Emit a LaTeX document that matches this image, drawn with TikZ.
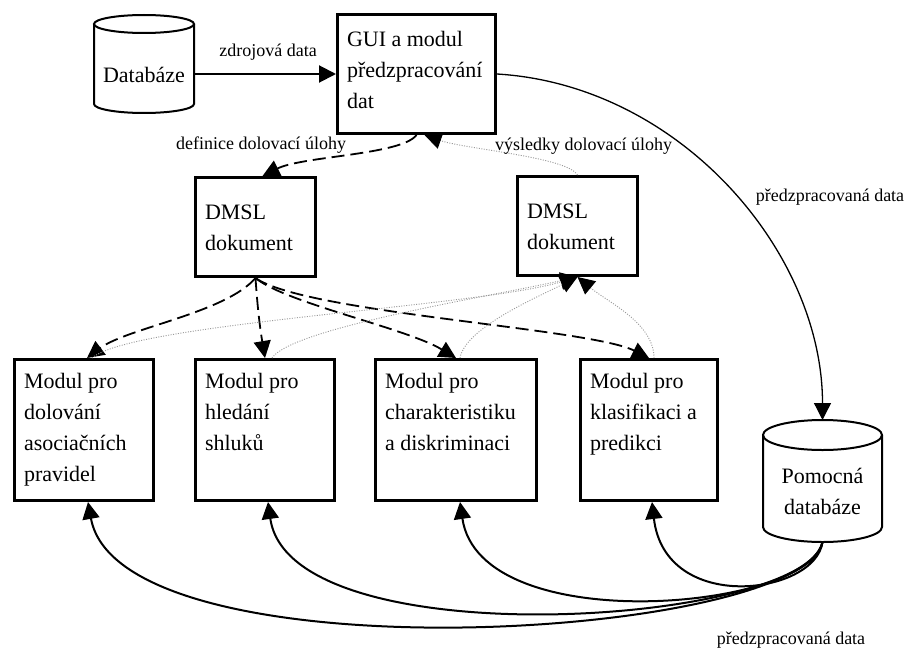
\documentclass[tikz,border=0pt]{standalone}
\usepackage{fontspec}
\setmainfont{Liberation Serif}
\usetikzlibrary{arrows.meta,calc}

\newcommand\boxfont{\fontsize{22pt}{31pt}\selectfont}
\newcommand\lblfont{\fontsize{18pt}{22pt}\selectfont}
% box contents: width, height, first baseline below top, lines
\newcommand\boxtext[4]{\parbox[c][#2][t]{#1}{\raggedright\rule{0pt}{#3}#4}}
\newcommand\cyltext[4]{\parbox[c][#2][t]{#1}{\centering\rule{0pt}{#3}#4}}

\tikzset{
  box/.style={draw, line width=3pt, inner xsep=9.5pt, inner ysep=0pt, font=\boxfont},
  cyl/.style={inner sep=0pt, outer sep=0pt, font=\boxfont},
  cylline/.style={line width=2pt},
  lbl/.style={font=\lblfont, inner sep=0pt, anchor=base},
  tip/.style={-{Triangle[length=17pt,width=17pt,color=black]}},
  solidthick/.style={tip, line width=2pt},
  solidthin/.style={tip, line width=1.3pt},
  dashedarrow/.style={tip, line width=1.8pt, dash pattern=on 13pt off 6pt},
  dottedarrow/.style={tip, line width=0.9pt, draw=gray!80, dash pattern=on 1pt off 1.5pt},
}

\begin{document}
\begin{tikzpicture}[x=1pt,y=-1pt]
\useasboundingbox[fill=white] (0,0) rectangle (904,650);

% boxes
\node[box] (gui) at (416.5,74) {\boxtext{139pt}{119pt}{32pt}{GUI a modul\\předzpracování\\dat}};
\node[box] (dmslA) at (255.5,227) {\boxtext{101pt}{99pt}{41.5pt}{DMSL\\dokument}};
\node[box] (dmslB) at (577.5,226) {\boxtext{101pt}{99pt}{41.5pt}{DMSL\\dokument}};
\node[box] (m1) at (84,430) {\boxtext{120pt}{141pt}{28.5pt}{Modul pro\\dolování\\asociačních\\pravidel}};
\node[box] (m2) at (265,430) {\boxtext{120pt}{141pt}{28.5pt}{Modul pro\\hledání\\shluků}};
\node[box] (m3) at (456,430) {\boxtext{142pt}{141pt}{28.5pt}{Modul pro\\charakteristiku\\a diskriminaci}};
\node[box] (m4) at (649,430) {\boxtext{118pt}{141pt}{28.5pt}{Modul pro\\klasifikaci a\\predikci}};

% databases
\node[cyl] (db) at (144,64) {\cyltext{102pt}{98pt}{68pt}{Databáze}};
\draw[cylline] ($(db.north)+(0,9)$) ellipse [x radius=50pt, y radius=9pt];
\draw[cylline] ($(db.north west)+(1,9)$) -- ($(db.south west)+(1,-9)$)
  arc[start angle=180, end angle=360, x radius=50pt, y radius=9pt]
  -- ($(db.north east)+(-1,9)$);

\node[cyl] (pom) at (822.5,481) {\cyltext{121pt}{122pt}{63pt}{Pomocná\\databáze}};
\draw[cylline] ($(pom.north)+(0,15)$) ellipse [x radius=59.5pt, y radius=15pt];
\draw[cylline] ($(pom.north west)+(1,15)$) -- ($(pom.south west)+(1,-15)$)
  arc[start angle=180, end angle=360, x radius=59.5pt, y radius=15pt]
  -- ($(pom.north east)+(-1,15)$);

% source data
\draw[solidthick] (db.east |- gui.west) -- (gui.west);
\node[lbl] (lblsrc) at (268,57) {zdrojová data};

% task definition and results
\draw[dashedarrow] (gui.south) .. controls +(-15,20) and +(40,-20) .. ($(dmslA.north)+(7,0)$);
\node[lbl] (lbldef) at (261,149) {definice dolovací úlohy};
\draw[dottedarrow] (dmslB.north) .. controls +(-10,-18) and +(40,14) .. ($(gui.south)+(8,0)$);
\node[lbl] (lblres) at (583.5,150) {výsledky dolovací úlohy};

% task document to the modules
\draw[dashedarrow] (dmslA.south) .. controls +(-30,35) and +(40,-30) .. ($(m1.north)+(3,0)$);
\draw[dashedarrow] (dmslA.south) .. controls +(2,30) and +(-5,-30) .. (m2.north);
\draw[dashedarrow] (dmslA.south) .. controls +(30,25) and +(-50,-30) .. (m3.north);
\draw[dashedarrow] (dmslA.south) .. controls +(50,35) and +(-60,-30) .. (m4.north);

% results from the modules
\draw[dottedarrow] ($(m1.north)+(8,0)$) .. controls +(40,-35) and +(-100,30) .. (dmslB.south);
\draw[dottedarrow] ($(m2.north)+(7,0)$) .. controls +(20,-30) and +(-90,20) .. (dmslB.south);
\draw[dottedarrow] ($(m3.north)+(4,0)$) .. controls +(5,-30) and +(-40,20) .. (dmslB.south);
\draw[dottedarrow] ($(m4.north)+(5,0)$) .. controls +(0,-35) and +(30,25) .. (dmslB.south);

% preprocessed data
\draw[solidthin] (gui.east) .. controls +(183,11) and +(0,-168) .. (pom.north);
\node[lbl] (lblpre) at (830,201) {předzpracovaná data};

\draw[solidthick] (pom.south) .. controls +(-22,98) and +(32,178) .. ($(m1.south)+(4,0)$);
\draw[solidthick] (pom.south) .. controls +(-17,83) and +(22,158) .. ($(m2.south)+(3,0)$);
\draw[solidthick] (pom.south) .. controls +(-12,68) and +(20,138) .. ($(m3.south)+(4,0)$);
\draw[solidthick] (pom.south) .. controls +(-7,53) and +(13,113) .. ($(m4.south)+(3,0)$);
\node[lbl] (lblpre2) at (791,644) {předzpracovaná data};
\end{tikzpicture}
\end{document}
